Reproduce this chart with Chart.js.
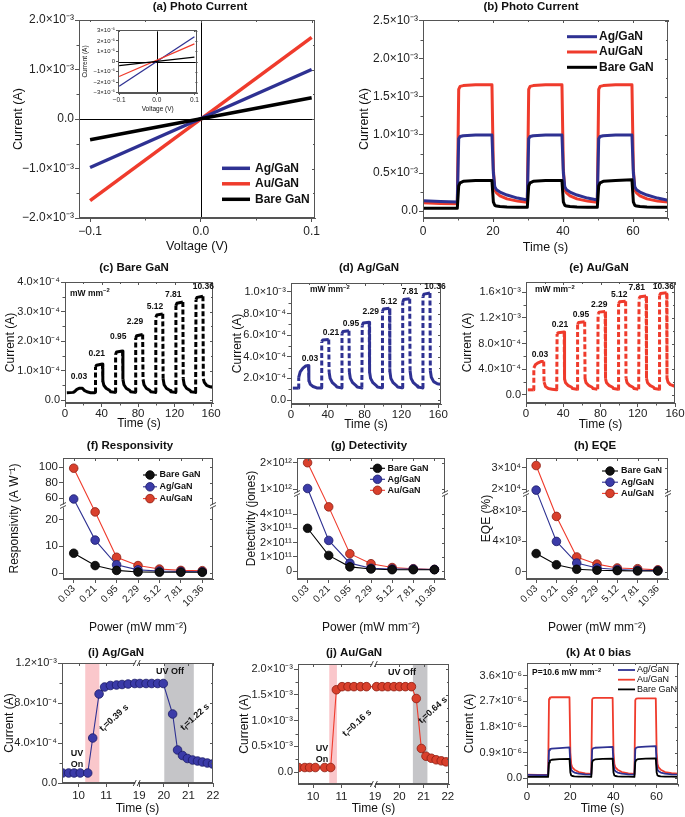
<!DOCTYPE html>
<html><head><meta charset="utf-8">
<script src="https://cdn.jsdelivr.net/npm/chart.js"></script>
<style>
html,body{margin:0;padding:0;background:#fff;}
#fig{position:relative;width:685px;height:817px;overflow:hidden;background:#fff;}
#fig canvas{position:absolute;}
</style></head><body><div id="fig"></div>
<script>
// ================= DATA =================
const seriesNames = ['Ag/GaN', 'Au/GaN', 'Bare GaN'];
const powerLabels = ['0.03', '0.21', '0.95', '2.29', '5.12', '7.81', '10.36'];

// (a) I-V, current in units of 1e-3 A
const aVoltage = [-0.1, 0.1];
const aAg = [-0.98, 1.0];
const aAu = [-1.65, 1.65];
const aBare = [-0.42, 0.43];
const aXTicks = [-0.1, 0, 0.1];
const aXLabels = ['−0.1', '0.0', '0.1'];
const aYTicks = [-2, -1, 0, 1, 2];
const aYLabels = ['−2.0×10⁻³', '−1.0×10⁻³', '0.0', '1.0×10⁻³', '2.0×10⁻³'];
// (a) inset, units of 1e-5 A
const insAg = [-2.4, 2.4];
const insAu = [-1.45, 1.7];
const insBare = [-0.4, 0.42];
const insYTicks = [-3, -2, -1, 0, 1, 2, 3];
const insYLabels = ['−3×10⁻⁵', '−2×10⁻⁵', '−1×10⁻⁵', '0', '1×10⁻⁵', '2×10⁻⁵', '3×10⁻⁵'];

// (b) transient, units of 1e-3 A
const bTime = [0,5,9.8,10.2,10.6,11.5,15,19.7,20.1,20.5,21,22,24,27,29.8,30.2,30.6,31.5,35,39.7,40.1,40.5,41,42,44,47,49.8,50.2,50.6,51.5,55,59.7,60.1,60.5,61,62,64,67,70];
const bAg = [0.135,0.125,0.12, 0.95,0.98,0.99,1.0,1.0, 0.50,0.32,0.28,0.25,0.21,0.17,0.145, 0.95,0.98,0.99,1.0,1.0, 0.50,0.32,0.28,0.25,0.21,0.17,0.145, 0.95,0.98,0.99,1.0,1.0, 0.50,0.32,0.28,0.25,0.21,0.17,0.14];
const bAu = [0.11,0.10,0.095, 1.60,1.64,1.65,1.66,1.66, 0.55,0.28,0.24,0.20,0.16,0.13,0.115, 1.60,1.64,1.65,1.66,1.66, 0.55,0.28,0.24,0.20,0.16,0.13,0.115, 1.60,1.64,1.65,1.66,1.66, 0.55,0.28,0.24,0.20,0.16,0.13,0.12];
const bBare = [0.035,0.035,0.035, 0.33,0.37,0.39,0.40,0.40, 0.12,0.075,0.065,0.058,0.052,0.05,0.048, 0.33,0.37,0.39,0.40,0.40, 0.12,0.075,0.065,0.058,0.052,0.05,0.048, 0.33,0.37,0.39,0.40,0.41, 0.12,0.075,0.065,0.058,0.052,0.05,0.048];
const bYTicks = [0, 0.5, 1, 1.5, 2, 2.5];
const bYLabels = ['0.0', '0.5×10⁻³', '1.0×10⁻³', '1.5×10⁻³', '2.0×10⁻³', '2.5×10⁻³'];
const timeTicks70 = [0, 20, 40, 60];

// (c) Bare GaN, units of 1e-4 A
const cTime = [2,9,11,13,16,19,21,24,28,32.6, 33,33.4,34.5,41,41.4,42.5,45,49,50,54.6, 55,55.4,56.5,63,63.4,64.5,67,71,72,76.6, 77,77.4,78.5,85,85.4,86.5,89,93,94,98.6, 99,99.4,100.5,107,107.4,108.5,111,115,116,120.6, 121,121.4,122.5,129,129.4,130.5,133,137,138,142.6, 143,143.4,144.5,151,151.4,152.5,155,159,161.5];
const cCur = [0.25,0.26,0.30,0.36,0.40,0.40,0.33,0.28,0.25,0.25, 0.27,1.12,1.18,1.22,0.65,0.50,0.40,0.32,0.28,0.26, 0.27,1.55,1.63,1.66,0.70,0.52,0.40,0.32,0.28,0.26, 0.27,2.10,2.18,2.22,0.70,0.52,0.40,0.32,0.28,0.26, 0.27,2.80,2.88,2.92,0.72,0.52,0.40,0.32,0.28,0.26, 0.27,3.20,3.28,3.32,0.72,0.52,0.40,0.32,0.28,0.26, 0.27,3.40,3.48,3.52,0.72,0.60,0.50,0.45,0.43];
const cYTicks = [0, 1, 2, 3, 4];
const cYLabels = ['0.0', '1.0×10⁻⁴', '2.0×10⁻⁴', '3.0×10⁻⁴', '4.0×10⁻⁴'];
const timeTicks160 = [0, 40, 80, 120, 160];

// (d) Ag/GaN, units of 1e-4 A
const dTime = [2,8,8.4,10,13,16,19,19.4,21,24,28,32.6, 33,33.4,34.5,41,41.4,42.5,45,49,50,54.6, 55,55.4,56.5,63,63.4,64.5,67,71,72,76.6, 77,77.4,78.5,85,85.4,86.5,89,93,94,98.6, 99,99.4,100.5,107,107.4,108.5,111,115,116,120.6, 121,121.4,122.5,129,129.4,130.5,133,137,138,142.6, 143,143.4,144.5,151,151.4,152.5,155,159,162];
const dCur = [1.1,1.1,2.1,2.6,2.95,3.15,3.2,1.8,1.45,1.25,1.12,1.1, 1.15,5.40,5.55,5.60,2.60,2.00,1.60,1.30,1.20,1.12, 1.15,6.15,6.35,6.42,2.60,2.00,1.60,1.30,1.20,1.12, 1.15,6.90,7.12,7.20,2.60,2.00,1.60,1.30,1.20,1.12, 1.15,8.20,8.42,8.50,2.70,2.00,1.60,1.30,1.20,1.12, 1.15,9.05,9.30,9.38,2.70,2.00,1.60,1.30,1.20,1.12, 1.15,9.55,9.80,9.90,2.70,2.10,1.70,1.50,1.45];
const dYTicks = [0, 2, 4, 6, 8, 10];
const dYLabels = ['0.0', '2.0×10⁻⁴', '4.0×10⁻⁴', '6.0×10⁻⁴', '8.0×10⁻⁴', '1.0×10⁻³'];

// (e) Au/GaN, units of 1e-3 A
const eTime = [2,8,8.4,10,13,16,19,19.4,21,24,28,32.6, 33,33.4,34.5,41,41.4,42.5,45,49,50,54.6, 55,55.4,56.5,63,63.4,64.5,67,71,72,76.6, 77,77.4,78.5,85,85.4,86.5,89,93,94,98.6, 99,99.4,100.5,107,107.4,108.5,111,115,116,120.6, 121,121.4,122.5,129,129.4,130.5,133,137,138,142.6, 143,143.4,144.5,151,151.4,152.5,155,159,160];
const eCur = [0.08,0.08,0.42,0.47,0.50,0.52,0.52,0.20,0.13,0.10,0.09,0.08, 0.09,0.95,0.97,0.98,0.25,0.19,0.15,0.12,0.10,0.09, 0.09,1.10,1.13,1.14,0.25,0.19,0.15,0.12,0.10,0.09, 0.09,1.26,1.29,1.30,0.25,0.19,0.15,0.12,0.10,0.09, 0.09,1.42,1.45,1.46,0.26,0.19,0.15,0.12,0.10,0.09, 0.09,1.50,1.53,1.54,0.26,0.19,0.15,0.12,0.10,0.09, 0.09,1.55,1.58,1.59,0.26,0.20,0.16,0.14,0.13];
const eYTicks = [0, 0.4, 0.8, 1.2, 1.6];
const eYLabels = ['0.0', '4.0×10⁻⁴', '8.0×10⁻⁴', '1.2×10⁻³', '1.6×10⁻³'];

// (f) responsivity (A/W)
const fBare = [7.4, 2.8, 1.0, 0.4, 0.35, 0.3, 0.3];
const fAg = [59, 12.3, 3.1, 1.2, 0.8, 0.6, 0.5];
const fAu = [98.5, 22.8, 5.9, 2.8, 1.5, 1.0, 0.9];
const fYTicks = [0, 10, 20, 60, 80, 100];
const fYLabels = ['0', '10', '20', '60', '80', '100'];
// (g) detectivity, units of 1e11 jones
const gBare = [3.0, 1.1, 0.3, 0.15, 0.1, 0.1, 0.1];
const gAg = [10.2, 2.15, 0.56, 0.2, 0.15, 0.15, 0.12];
const gAu = [20, 4.5, 1.22, 0.52, 0.25, 0.17, 0.12];
const gYTicks = [0, 1, 2, 3, 4, 10, 20];
const gYLabels = ['0', '1×10¹¹', '2×10¹¹', '3×10¹¹', '4×10¹¹', '1×10¹²', '2×10¹²'];
// (h) EQE, units of 1e3 %
const hBare = [2.4, 0.92, 0.32, 0.2, 0.15, 0.1, 0.1];
const hAg = [19.6, 4.0, 1.15, 0.5, 0.3, 0.2, 0.15];
const hAu = [31.0, 7.3, 1.95, 1.0, 0.5, 0.4, 0.25];
const hYTicks = [0, 4, 8, 20, 30];
const hYLabels = ['0', '4×10³', '8×10³', '2×10⁴', '3×10⁴'];

// (i) Ag/GaN rise/fall, units of 1e-4 A
const iTime = [9.42,9.64,9.84,10.06,10.33,10.51,10.74,10.94,11.15,11.37,11.57,11.79,12.03, 19.03,19.28,19.51,19.75,19.98,20.36,20.56,20.76,20.96,21.17,21.37,21.57,21.77,21.98];
const iCur = [1.0,1.0,1.0,1.0,1.0,4.5,8.9,9.6,9.75,9.8,9.85,9.9,9.95, 9.95,9.95,9.95,9.95,9.95,6.9,3.3,2.75,2.45,2.3,2.2,2.1,2.0,1.9];
const iYTicks = [0, 4, 8, 12];
const iYLabels = ['0.0', '4.0×10⁻⁴', '8.0×10⁻⁴', '1.2×10⁻³'];
const brokenTimeTicks = [10, 11, 19, 20, 21, 22];
// (j) Au/GaN rise/fall, units of 1e-3 A
const jTime = [9.49,9.71,9.88,10.08,10.41,10.62,10.82,11.02,11.23,11.44,11.67,11.88, 19.06,19.29,19.53,19.78,20.01,20.25,20.5,20.7,20.91,21.1,21.32,21.52,21.73,21.93];
const jCur = [0.09,0.09,0.09,0.09,0.09,0.09,1.6,1.66,1.66,1.66,1.66,1.66, 1.66,1.66,1.66,1.66,1.66,1.66,1.66,1.43,0.46,0.31,0.27,0.24,0.22,0.2];
const jYTicks = [0, 0.5, 1, 1.5, 2];
const jYLabels = ['0.0', '0.5×10⁻³', '1.0×10⁻³', '1.5×10⁻³', '2.0×10⁻³'];

// (k) zero bias, units of 1e-6 A (same time grid as b)
const kAg = [0.12,0.11,0.11, 0.98,1.02,1.04,1.06,1.08, 0.5,0.3,0.25,0.2,0.16,0.14,0.13, 1.0,1.05,1.07,1.08,1.1, 0.5,0.3,0.25,0.2,0.16,0.14,0.13, 1.02,1.07,1.09,1.11,1.13, 0.5,0.3,0.25,0.2,0.16,0.14,0.13];
const kAu = [0.13,0.12,0.12, 2.78,2.83,2.84,2.84,2.84, 0.9,0.5,0.38,0.3,0.22,0.17,0.15, 2.76,2.81,2.82,2.82,2.82, 0.9,0.5,0.38,0.3,0.22,0.17,0.15, 2.74,2.79,2.80,2.80,2.80, 0.9,0.5,0.38,0.3,0.22,0.18,0.16];
const kBare = [0.05,0.05,0.05, 0.55,0.62,0.65,0.67,0.68, 0.2,0.1,0.08,0.07,0.06,0.055,0.05, 0.56,0.63,0.66,0.68,0.69, 0.2,0.1,0.08,0.07,0.06,0.055,0.05, 0.57,0.64,0.67,0.69,0.70, 0.2,0.1,0.08,0.07,0.06,0.055,0.05];
const kYTicks = [0, 0.9, 1.8, 2.7, 3.6];
const kYLabels = ['0.0', '0.9×10⁻⁶', '1.8×10⁻⁶', '2.7×10⁻⁶', '3.6×10⁻⁶'];

// ================= STYLE / HELPERS =================
const FONT = '"Liberation Sans", Arial, Helvetica, sans-serif';
Chart.defaults.font.family = FONT;
Chart.defaults.color = '#222';
const FRAME = '#555';
const C_AG = '#2e3192', C_AU = '#ef3b2c', C_BARE = '#000000';
const fig = document.getElementById('fig');

class BrokenScale extends Chart.LinearScale {
  getPixelForValue(value) {
    const segs = this.options.segments;
    const total = segs.reduce((s, g) => s + g.weight, 0);
    let acc = 0;
    for (let i = 0; i < segs.length; i++) {
      const g = segs[i];
      if (value <= g.max || i === segs.length - 1) {
        const v = Math.max(value, g.min);
        return this.getPixelForDecimal((acc + (v - g.min) / (g.max - g.min) * g.weight) / total);
      }
      acc += g.weight;
    }
  }
}
BrokenScale.id = 'broken';
Chart.register(BrokenScale);

function pts(xs, ys) { return xs.map((x, i) => ({x: x, y: ys[i]})); }

function drawRich(ctx, t, ox, oy) {
  const size = t.size || 10, w = t.bold ? 'bold ' : '';
  const parts = t.parts || [{s: t.text}];
  const fMain = w + size + 'px ' + FONT, fSmall = w + (size * 0.68).toFixed(1) + 'px ' + FONT;
  const widths = parts.map(p => { ctx.font = (p.sub || p.sup) ? fSmall : fMain; return ctx.measureText(p.s).width; });
  const total = widths.reduce((a, b) => a + b, 0);
  ctx.save();
  ctx.translate(t.x - ox, t.y - oy);
  if (t.rot) ctx.rotate(t.rot * Math.PI / 180);
  let cx = t.align === 'left' ? 0 : (t.align === 'right' ? -total : -total / 2);
  ctx.textBaseline = 'middle'; ctx.textAlign = 'left'; ctx.fillStyle = t.color || '#111';
  parts.forEach((p, i) => {
    ctx.font = (p.sub || p.sup) ? fSmall : fMain;
    ctx.fillText(p.s, cx, p.sub ? size * 0.32 : (p.sup ? -size * 0.35 : 0));
    cx += widths[i];
  });
  ctx.restore();
}

function scaleMinor(ctx, sc, a, step, horizontal) {
  if (!step) return;
  const majors = sc.ticks.map(t => t.value);
  const k0 = Math.ceil(sc.min / step - 1e-9), k1 = Math.floor(sc.max / step + 1e-9);
  ctx.beginPath();
  for (let k = k0; k <= k1; k++) {
    const v = k * step;
    if (majors.some(m => Math.abs(m - v) < step * 1e-3)) continue;
    const p = Math.round(sc.getPixelForValue(v)) + 0.5;
    if (horizontal) { ctx.moveTo(p, a.bottom); ctx.lineTo(p, a.bottom + 2.5); ctx.moveTo(p, a.top); ctx.lineTo(p, a.top + 2); }
    else { ctx.moveTo(a.left, p); ctx.lineTo(a.left - 2.5, p); ctx.moveTo(a.right, p); ctx.lineTo(a.right - 2, p); }
  }
  ctx.stroke();
}

const decor = {
  id: 'decor',
  beforeDatasetsDraw(chart) {
    const d = chart.canvas.decor || {};
    const {ctx, chartArea: a, scales} = chart;
    ctx.save();
    (d.shades || []).forEach(s => {
      const x1 = scales.x.getPixelForValue(s.from), x2 = scales.x.getPixelForValue(s.to);
      ctx.fillStyle = s.color;
      ctx.fillRect(x1, a.top, x2 - x1, a.bottom - a.top);
    });
    if (d.zeroLines) {
      ctx.strokeStyle = '#000'; ctx.lineWidth = 1;
      const px = Math.round(scales.x.getPixelForValue(0)) + 0.5, py = Math.round(scales.y.getPixelForValue(0)) + 0.5;
      ctx.beginPath(); ctx.moveTo(px, a.top); ctx.lineTo(px, a.bottom); ctx.moveTo(a.left, py); ctx.lineTo(a.right, py); ctx.stroke();
    }
    ctx.restore();
  },
  afterDatasetsDraw(chart) {
    const d = chart.canvas.decor || {};
    const {ctx, chartArea: a, scales} = chart;
    const ox = d.ox, oy = d.oy;
    ctx.save();
    ctx.strokeStyle = FRAME; ctx.lineWidth = 1;
    const L = Math.round(a.left) + 0.5, T = Math.round(a.top) + 0.5, R = Math.round(a.right) - 0.5, B = Math.round(a.bottom) - 0.5;
    ctx.strokeRect(L, T, R - L, B - T);
    const tl = d.tickIn || 3;
    ctx.beginPath();
    scales.x.ticks.forEach((t, i) => { const p = Math.round(scales.x.getPixelForTick(i)) + 0.5; ctx.moveTo(p, a.top); ctx.lineTo(p, a.top + tl); });
    scales.y.ticks.forEach((t, i) => { const p = Math.round(scales.y.getPixelForTick(i)) + 0.5; ctx.moveTo(a.right, p); ctx.lineTo(a.right - tl, p); });
    ctx.stroke();
    if (d.minor) { scaleMinor(ctx, scales.x, a, d.minor.x, true); scaleMinor(ctx, scales.y, a, d.minor.y, false); }
    (d.breaks || []).forEach(b => {
      const sc = scales[b.axis];
      const p = sc.getPixelForValue(b.at);
      const ends = b.axis === 'y' ? [[a.left, p], [a.right, p]] : [[p, a.top], [p, a.bottom]];
      ends.forEach(([ex, ey]) => {
        ctx.fillStyle = '#fff';
        if (b.axis === 'y') ctx.fillRect(ex - 2, ey - 1.5, 4, 3); else ctx.fillRect(ex - 1.5, ey - 2, 3, 4);
        ctx.strokeStyle = '#333'; ctx.lineWidth = 0.9;
        ctx.beginPath();
        if (b.axis === 'y') { ctx.moveTo(ex - 3, ey - 0.5); ctx.lineTo(ex + 3, ey - 3.5); ctx.moveTo(ex - 3, ey + 2.5); ctx.lineTo(ex + 3, ey - 0.5); }
        else { ctx.moveTo(ex - 3.5, ey + 3); ctx.lineTo(ex - 0.5, ey - 3); ctx.moveTo(ex + 0.5, ey + 3); ctx.lineTo(ex + 3.5, ey - 3); }
        ctx.stroke();
      });
    });
    if (d.legend) {
      const g = d.legend;
      g.items.forEach((it, i) => {
        const yy = g.y - oy + i * g.dy, xx = g.x - ox;
        ctx.strokeStyle = it.color; ctx.lineWidth = g.lw;
        ctx.beginPath(); ctx.moveTo(xx, yy); ctx.lineTo(xx + g.len, yy); ctx.stroke();
        if (g.r) {
          ctx.beginPath(); ctx.arc(xx + g.len / 2, yy, g.r, 0, Math.PI * 2);
          ctx.fillStyle = it.fill; ctx.fill(); ctx.lineWidth = 0.8; ctx.strokeStyle = it.border; ctx.stroke();
        }
        drawRich(ctx, {text: it.label, x: g.x + g.len + g.gap, y: g.y + i * g.dy, size: g.size, bold: g.bold, align: 'left'}, ox, oy);
      });
    }
    (d.texts || []).forEach(t => drawRich(ctx, t, ox, oy));
    if (d.title) drawRich(ctx, Object.assign({size: 11.5, bold: true, color: '#111'}, d.title), ox, oy);
    ctx.restore();
  }
};

function linAxis(min, max, ticks, labels, o) {
  o = o || {};
  return {
    type: o.type || 'linear', min: min, max: max, segments: o.segments,
    afterBuildTicks: ax => { ax.ticks = ticks.map(v => ({value: v})); },
    ticks: {callback: (v, i) => labels[i], font: {size: o.fs || 11}, color: '#222', padding: o.tp === undefined ? 2 : o.tp, autoSkip: false, maxRotation: 0, minRotation: 0},
    grid: {display: true, drawOnChartArea: false, drawTicks: true, tickLength: o.tl || 4, color: FRAME, lineWidth: 1},
    border: {display: true, color: FRAME, width: 1},
    title: {display: !!o.title, text: o.title, font: {size: o.tfs || 12}, color: '#111', padding: o.tpad || 0}
  };
}
function catAxis(labels, o) {
  return {
    type: 'category', labels: labels, offset: true,
    ticks: {font: {size: 10}, color: '#222', minRotation: 45, maxRotation: 45, padding: 0, autoSkip: false},
    grid: {display: true, drawOnChartArea: false, drawTicks: true, tickLength: 4, color: FRAME, offset: false},
    border: {display: true, color: FRAME, width: 1},
    title: {display: true, text: o.title, font: {size: 12}, color: '#111', padding: o.tpad}
  };
}

function makePanel(cv, plot, spec) {
  const c = document.createElement('canvas');
  c.width = cv.w; c.height = cv.h;
  c.style.left = cv.x + 'px'; c.style.top = cv.y + 'px';
  c.style.width = cv.w + 'px'; c.style.height = cv.h + 'px';
  if (spec.bg) c.style.background = spec.bg;
  fig.appendChild(c);
  c.decor = Object.assign({ox: cv.x, oy: cv.y}, spec.decor);
  const xH = cv.y + cv.h - plot.B, yW = plot.L - cv.x;
  spec.x.afterFit = s => { s.height = xH; };
  spec.y.afterFit = s => { s.width = yW; };
  return new Chart(c, {
    type: 'line',
    data: {labels: spec.labels, datasets: spec.datasets},
    options: {
      responsive: false, animation: false, events: [], devicePixelRatio: 1,
      layout: {padding: {left: 0, top: plot.T - cv.y, right: cv.x + cv.w - plot.R, bottom: 0}},
      plugins: {legend: {display: false}, tooltip: {enabled: false}, title: {display: false}},
      elements: {line: {tension: 0}, point: {radius: 0}},
      scales: {x: spec.x, y: spec.y}
    },
    plugins: [decor]
  });
}
function lineDs(data, color, width, extra) {
  return Object.assign({data: data, borderColor: color, backgroundColor: color, borderWidth: width, pointRadius: 0, fill: false, borderJoinStyle: 'round'}, extra || {});
}
const steepDash = { borderDash: ctx => (Math.abs(ctx.p1.y - ctx.p0.y) > 3 * Math.abs(ctx.p1.x - ctx.p0.x) + 5 ? [5, 2.5] : undefined) };
function markerDs(data, color, fill, border) {
  return {data: data, borderColor: color, borderWidth: 1.1, pointRadius: 4.3, pointBackgroundColor: fill, pointBorderColor: border, pointBorderWidth: 0.8, fill: false};
}

// ================= PANELS =================
// (a)
makePanel({x: 0, y: 0, w: 340, h: 256}, {L: 79, T: 20, R: 315, B: 218}, {
  datasets: [lineDs(pts(aVoltage, aBare), C_BARE, 3.5), lineDs(pts(aVoltage, aAg), C_AG, 3.5), lineDs(pts(aVoltage, aAu), C_AU, 3.5)],
  x: linAxis(-0.11, 0.103, aXTicks, aXLabels, {fs: 12, title: 'Voltage (V)', tfs: 12.5, tpad: {top: 0, bottom: 1.8}}),
  y: linAxis(-2, 2, aYTicks, aYLabels, {fs: 12, tp: 1, title: 'Current (A)', tfs: 12.5, tpad: {top: 10.8, bottom: 0}}),
  decor: {zeroLines: true, minor: {x: 0.05, y: 0.5}, title: {text: '(a) Photo Current', x: 200, y: 7},
    legend: {x: 222, y: 168.3, dy: 15.5, len: 28, gap: 5, lw: 3.5, size: 12, bold: true,
      items: [{label: seriesNames[0], color: C_AG}, {label: seriesNames[1], color: C_AU}, {label: seriesNames[2], color: C_BARE}]}}
});
// (a) inset
makePanel({x: 80, y: 22, w: 120, h: 92}, {L: 118, T: 30, R: 198, B: 93}, {
  bg: '#fff',
  datasets: [lineDs(pts(aVoltage, insBare), C_BARE, 1.3), lineDs(pts(aVoltage, insAu), C_AU, 1.3), lineDs(pts(aVoltage, insAg), C_AG, 1.3)],
  x: linAxis(-0.103, 0.108, aXTicks, aXLabels, {fs: 6.5, tl: 2, tp: 1, title: 'Voltage (V)', tfs: 6.5, tpad: {top: 0, bottom: 0.5}}),
  y: linAxis(-3.05, 3.05, insYTicks, insYLabels, {fs: 6, tl: 2, tp: 1, title: 'Current (A)', tfs: 6.5, tpad: {top: 1, bottom: 0}}),
  decor: {zeroLines: true, tickIn: 2}
});
// (b)
makePanel({x: 345, y: 0, w: 340, h: 256}, {L: 423, T: 20, R: 668, B: 218}, {
  datasets: [lineDs(pts(bTime, bBare), C_BARE, 3), lineDs(pts(bTime, bAg), C_AG, 3), lineDs(pts(bTime, bAu), C_AU, 3)],
  x: linAxis(0, 70, timeTicks70, ['0', '20', '40', '60'], {fs: 12, title: 'Time (s)', tfs: 12.5, tpad: {top: 0, bottom: 1.2}}),
  y: linAxis(-0.092, 2.513, bYTicks, bYLabels, {fs: 12, tp: 1, title: 'Current (A)', tfs: 12.5, tpad: {top: 12.5, bottom: 0}}),
  decor: {minor: {x: 10, y: 0.25}, title: {text: '(b) Photo Current', x: 531, y: 7},
    legend: {x: 567, y: 36.7, dy: 15.3, len: 30, gap: 2, lw: 3, size: 12, bold: true,
      items: [{label: seriesNames[0], color: C_AG}, {label: seriesNames[1], color: C_AU}, {label: seriesNames[2], color: C_BARE}]}}
});
// (c)
function pulseTexts(list) { return list.map(p => ({text: p[0], x: p[1], y: p[2], size: 8.5, bold: true})); }
makePanel({x: 0, y: 262, w: 225, h: 170}, {L: 65, T: 282, R: 213, B: 403}, {
  datasets: [lineDs(pts(cTime, cCur), C_BARE, 3, {segment: steepDash})],
  x: linAxis(0, 162, timeTicks160, ['0', '40', '80', '120', '160'], {fs: 11.5, tp: 0, title: 'Time (s)', tpad: {top: 0, bottom: 1.5}}),
  y: linAxis(-0.1, 4.0, cYTicks, cYLabels, {fs: 11, tp: 1, title: 'Current (A)', tpad: {top: 3.8, bottom: 0}}),
  decor: {minor: {x: 20, y: 0.5}, title: {text: '(c) Bare GaN', x: 134, y: 268},
    texts: [{parts: [{s: 'mW mm'}, {s: '−2', sup: true}], x: 70, y: 293.5, size: 8.5, bold: true, align: 'left'}].concat(pulseTexts([
      [powerLabels[0], 79, 376.7], [powerLabels[1], 96.7, 353.3], [powerLabels[2], 118.3, 336.7], [powerLabels[3], 135, 321.7],
      [powerLabels[4], 155, 306.7], [powerLabels[5], 173.3, 294.3], [powerLabels[6], 203.3, 286.7]]))}
});
// (d)
makePanel({x: 225, y: 262, w: 230, h: 170}, {L: 291, T: 283, R: 441, B: 404}, {
  datasets: [lineDs(pts(dTime, dCur), C_AG, 3, {segment: steepDash})],
  x: linAxis(0, 163, timeTicks160, ['0', '40', '80', '120', '160'], {fs: 11.5, tp: 0, title: 'Time (s)', tpad: {top: 0, bottom: 0}}),
  y: linAxis(-0.37, 10.83, dYTicks, dYLabels, {fs: 11, tp: 1, title: 'Current (A)', tpad: {top: 5.8, bottom: 0}}),
  decor: {minor: {x: 20, y: 1}, title: {text: '(d) Ag/GaN', x: 369, y: 268},
    texts: [{parts: [{s: 'mW mm'}, {s: '−2', sup: true}], x: 310, y: 290, size: 8.5, bold: true, align: 'left'}].concat(pulseTexts([
      [powerLabels[0], 310, 358.3], [powerLabels[1], 331, 332.7], [powerLabels[2], 351, 323.3], [powerLabels[3], 370.7, 311.7],
      [powerLabels[4], 389, 301.7], [powerLabels[5], 410, 291.7], [powerLabels[6], 435, 286.7]]))}
});
// (e)
makePanel({x: 455, y: 262, w: 230, h: 170}, {L: 526, T: 282, R: 675, B: 403}, {
  datasets: [lineDs(pts(eTime, eCur), C_AU, 3, {segment: steepDash})],
  x: linAxis(0, 160, timeTicks160, ['0', '40', '80', '120', '160'], {fs: 11.5, tp: 0, title: 'Time (s)', tpad: {top: 0, bottom: 0}}),
  y: linAxis(-0.125, 1.759, eYTicks, eYLabels, {fs: 11, tp: 1, title: 'Current (A)', tpad: {top: 5.8, bottom: 0}}),
  decor: {minor: {x: 20, y: 0.2}, title: {text: '(e) Au/GaN', x: 599, y: 268},
    texts: [{parts: [{s: 'mW mm'}, {s: '−2', sup: true}], x: 535, y: 290, size: 8.5, bold: true, align: 'left'}].concat(pulseTexts([
      [powerLabels[0], 540, 355], [powerLabels[1], 560, 325], [powerLabels[2], 581, 314.3], [powerLabels[3], 599.3, 304.3],
      [powerLabels[4], 619.3, 294.3], [powerLabels[5], 636.7, 287.7], [powerLabels[6], 663.3, 286.7]]))}
});
// (f)(g)(h)
const MK = {bare: ['#111', '#000'], ag: ['#3b3ba8', '#1b1b66'], au: ['#d9402c', '#8c1d12']};
function fghLegend(x, y, dy, len, gap) {
  return {x: x, y: y, dy: dy, len: len, gap: gap, lw: 1.1, r: 4.3, size: 9, bold: true,
    items: [{label: seriesNames[2], color: C_BARE, fill: MK.bare[0], border: MK.bare[1]},
            {label: seriesNames[0], color: C_AG, fill: MK.ag[0], border: MK.ag[1]},
            {label: seriesNames[1], color: C_AU, fill: MK.au[0], border: MK.au[1]}]};
}
function fghDatasets(bare, ag, au) {
  return [markerDs(bare, C_BARE, MK.bare[0], MK.bare[1]), markerDs(ag, C_AG, MK.ag[0], MK.ag[1]), markerDs(au, C_AU, MK.au[0], MK.au[1])];
}
makePanel({x: 0, y: 440, w: 225, h: 197}, {L: 63, T: 458, R: 213, B: 579}, {
  labels: powerLabels,
  datasets: fghDatasets(fBare, fAg, fAu),
  x: catAxis(powerLabels, {title: 'Power (mW mm⁻²)', tpad: {top: 0, bottom: 2.5}}),
  y: linAxis(-2.2, 111.6, fYTicks, fYLabels, {type: 'broken', segments: [{min: -2.2, max: 25, weight: 73}, {min: 50, max: 111.6, weight: 48}], fs: 11.5, tp: 1, title: 'Responsivity (A W⁻¹)', tpad: {top: 7.8, bottom: 0}}),
  decor: {breaks: [{axis: 'y', at: 25}], title: {text: '(f) Responsivity', x: 130, y: 446}, legend: fghLegend(143, 475, 11.8, 14, 2.5)}
});
makePanel({x: 225, y: 440, w: 230, h: 197}, {L: 297, T: 458, R: 445, B: 579}, {
  labels: powerLabels,
  datasets: fghDatasets(gBare, gAg, gAu),
  x: catAxis(powerLabels, {title: 'Power (mW mm⁻²)', tpad: {top: 0, bottom: 2.5}}),
  y: linAxis(-0.55, 21.8, gYTicks, gYLabels, {type: 'broken', segments: [{min: -0.55, max: 5.4, weight: 85}, {min: 8.1, max: 21.8, weight: 36}], fs: 11, tp: 1, title: 'Detectivity (jones)', tpad: {top: 19.5, bottom: 0}}),
  decor: {breaks: [{axis: 'y', at: 5.4}], title: {text: '(g) Detectivity', x: 369, y: 446}, legend: fghLegend(370, 468.3, 11, 15, 2.5)}
});
makePanel({x: 455, y: 440, w: 230, h: 197}, {L: 526, T: 458, R: 668, B: 579}, {
  labels: powerLabels,
  datasets: fghDatasets(hBare, hAg, hAu),
  x: catAxis(powerLabels, {title: 'Power (mW mm⁻²)', tpad: {top: 0, bottom: 2.5}}),
  y: linAxis(-0.96, 34.5, hYTicks, hYLabels, {type: 'broken', segments: [{min: -0.96, max: 10.26, weight: 85}, {min: 17.8, max: 34.5, weight: 36}], fs: 11, tp: 1, title: 'EQE (%)', tpad: {top: 24.5, bottom: 0}}),
  decor: {breaks: [{axis: 'y', at: 10.26}], title: {text: '(h) EQE', x: 595, y: 446}, legend: fghLegend(602, 471, 11.2, 16, 3)}
});
// (i)
makePanel({x: 0, y: 640, w: 225, h: 177}, {L: 62, T: 663, R: 213, B: 783}, {
  datasets: [markerDs(pts(iTime, iCur), C_AG, MK.ag[0], MK.ag[1])],
  x: linAxis(9.4, 22, brokenTimeTicks, ['10', '11', '19', '20', '21', '22'], {type: 'broken', segments: [{min: 9.4, max: 12.1, weight: 75}, {min: 18.9, max: 22, weight: 76.6}], fs: 11.5, title: 'Time (s)', tpad: {top: 0, bottom: 1.5}}),
  y: linAxis(0, 12, iYTicks, iYLabels, {fs: 11, tp: 1, title: 'Current (A)', tpad: {top: 2.1, bottom: 0}}),
  decor: {minor: {y: 2}, breaks: [{axis: 'x', at: 12.1}], title: {text: '(i) Ag/GaN', x: 116, y: 653},
    shades: [{from: 10.24, to: 10.75, color: 'rgba(248,180,185,0.75)'}, {from: 20.02, to: 21.22, color: 'rgba(150,150,155,0.55)'}],
    texts: [{text: 'UV', x: 77, y: 754, size: 9, bold: true}, {text: 'On', x: 77, y: 765, size: 9, bold: true},
      {text: 'UV Off', x: 170, y: 672, size: 9, bold: true},
      {parts: [{s: 't'}, {s: 'r', sub: true}, {s: '=0.39 s'}], x: 114, y: 718, size: 9, bold: true, rot: -42},
      {parts: [{s: 't'}, {s: 'f', sub: true}, {s: '=1.22 s'}], x: 195, y: 717, size: 9, bold: true, rot: -42}]}
});
// (j)
makePanel({x: 225, y: 640, w: 235, h: 177}, {L: 298, T: 664, R: 449, B: 784}, {
  datasets: [markerDs(pts(jTime, jCur), C_AU, MK.au[0], MK.au[1])],
  x: linAxis(9.47, 22.05, brokenTimeTicks, ['10', '11', '19', '20', '21', '22'], {type: 'broken', segments: [{min: 9.47, max: 12.14, weight: 75.7}, {min: 18.95, max: 22.05, weight: 75}], fs: 11.5, title: 'Time (s)', tpad: {top: 0, bottom: 1.5}}),
  y: linAxis(-0.23, 2.1, jYTicks, jYLabels, {fs: 11, tp: 1, title: 'Current (A)', tpad: {top: 12.8, bottom: 0}}),
  decor: {minor: {y: 0.25}, breaks: [{axis: 'x', at: 12.14}], title: {text: '(j) Au/GaN', x: 354, y: 653},
    shades: [{from: 10.57, to: 10.84, color: 'rgba(248,180,185,0.75)'}, {from: 20.56, to: 21.16, color: 'rgba(150,150,155,0.55)'}],
    texts: [{text: 'UV', x: 322, y: 749, size: 9, bold: true}, {text: 'On', x: 322, y: 760, size: 9, bold: true},
      {text: 'UV Off', x: 402, y: 672.5, size: 9, bold: true},
      {parts: [{s: 't'}, {s: 'r', sub: true}, {s: '=0.16 s'}], x: 357, y: 723, size: 9, bold: true, rot: -42},
      {parts: [{s: 't'}, {s: 'f', sub: true}, {s: '=0.64 s'}], x: 433, y: 710, size: 9, bold: true, rot: -42}]}
});
// (k)
makePanel({x: 455, y: 640, w: 230, h: 177}, {L: 527, T: 663, R: 678, B: 784}, {
  datasets: [lineDs(pts(bTime, kBare), C_BARE, 1.8), lineDs(pts(bTime, kAg), C_AG, 1.8), lineDs(pts(bTime, kAu), C_AU, 1.8)],
  x: linAxis(0, 70, timeTicks70, ['0', '20', '40', '60'], {fs: 11.5, title: 'Time (s)', tpad: {top: 0, bottom: 1.5}}),
  y: linAxis(-0.2, 4.04, kYTicks, kYLabels, {fs: 11, tp: 1, title: 'Current (A)', tpad: {top: 7.8, bottom: 0}}),
  decor: {minor: {x: 10, y: 0.45}, title: {text: '(k) At 0 bias', x: 598.5, y: 653},
    texts: [{parts: [{s: 'P=10.6 mW mm'}, {s: '−2', sup: true}], x: 532, y: 673, size: 8.5, bold: true, align: 'left'}],
    legend: {x: 618, y: 670, dy: 9.7, len: 17, gap: 2, lw: 1.8, size: 9, bold: false,
      items: [{label: seriesNames[0], color: C_AG}, {label: seriesNames[1], color: C_AU}, {label: seriesNames[2], color: C_BARE}]}}
});
</script>
</body></html>
